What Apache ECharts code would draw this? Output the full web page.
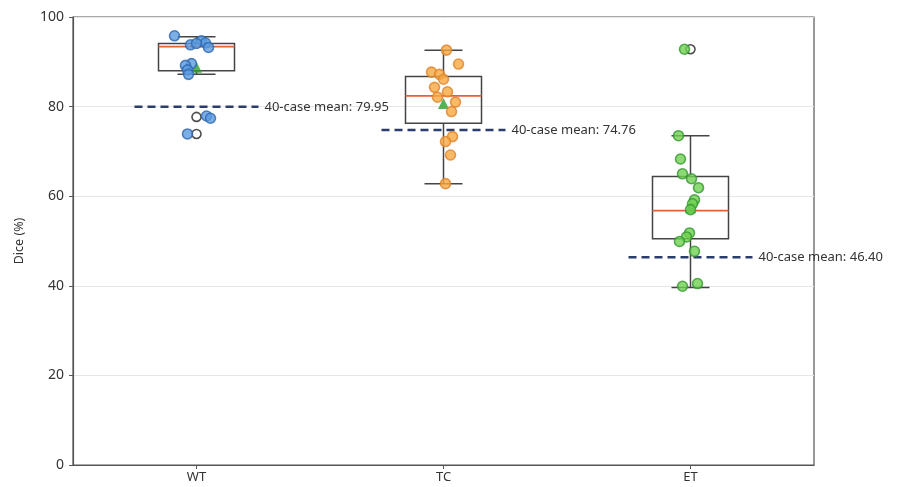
<!DOCTYPE html>
<html><head><meta charset="utf-8">
<script src="https://cdn.jsdelivr.net/npm/echarts@6/dist/echarts.min.js"></script>
<style>html,body{margin:0;padding:0;background:#fff}#c{width:901px;height:487px}</style>
</head><body><div id="c"></div>
<script>
// ---- data ----
const categories = ['WT', 'TC', 'ET'];
const wtValues = [95.8, 94.7, 94.2, 93.8, 94.1, 93.2, 89.6, 89.2, 88.2, 87.2, 77.9, 77.4, 73.9];
const tcValues = [92.6, 89.5, 87.7, 87.2, 86.1, 84.3, 83.3, 82.1, 81.0, 78.9, 73.3, 72.2, 69.2, 62.8];
const etValues = [92.8, 73.5, 68.3, 65.0, 63.9, 61.9, 59.2, 58.3, 57.0, 51.8, 50.9, 49.9, 47.7, 40.5, 39.9];
const boxLow = [87.2, 62.8, 39.6];
const boxQ1 = [88.0, 76.3, 50.5];
const boxMedian = [93.4, 82.4, 56.8];
const boxQ3 = [94.1, 86.7, 64.4];
const boxHigh = [95.6, 92.6, 73.5];
const meanValues = [88.8, 80.7, 57.4];
const caseMeans = [79.95, 74.76, 46.40];
const caseMeanLabels = ['40-case mean: 79.95', '40-case mean: 74.76', '40-case mean: 46.40'];
const outlierCats = [0, 0, 2];
const outlierValues = [77.7, 73.9, 92.8];
const yMin = 0, yMax = 100, yInterval = 20;

// ---- visual jitter of the strip points (pixels) ----
const wtJitter = [-22, 5, 9, -6, 0, 12, -5, -11, -9, -8, 10, 14, -9];
const tcJitter = [3, 15, -12, -4, 0, -9, 4, -6, 12, 8, 9, 2, 7, 2];
const etJitter = [-6, -12, -10, -8, 1, 8, 4, 2, 0, -1, -4, -11, 4, 7, -8];

const FONT = 'Noto Sans';
const chart = echarts.init(document.getElementById('c'), null, {renderer: 'canvas'});

function stripData(idx, vals, jit) {
  return vals.map((v, i) => ({value: [idx, v], symbolOffset: [jit[i], 0]}));
}

const boxData = categories.map((c, i) => [i, boxLow[i], boxQ1[i], boxMedian[i], boxQ3[i], boxHigh[i]]);
const meanLineData = categories.map((c, i) => [i, caseMeans[i]]);

const option = {
  animation: false,
  backgroundColor: '#fff',
  grid: {left: 73, right: 87, top: 17, bottom: 22, show: true, borderColor: '#555', borderWidth: 1.2, containLabel: false},
  xAxis: {
    type: 'category', data: categories, boundaryGap: true,
    axisLine: {show: true, lineStyle: {color: '#555', width: 1.2}},
    axisTick: {show: true, alignWithLabel: true, length: 4, lineStyle: {color: '#555'}},
    axisLabel: {color: '#333', fontSize: 13, fontFamily: FONT, margin: 6},
    splitLine: {show: false}
  },
  yAxis: {
    type: 'value', min: yMin, max: yMax, interval: yInterval,
    name: 'Dice (%)', nameLocation: 'middle', nameGap: 47, nameRotate: 90,
    nameTextStyle: {color: '#333', fontSize: 12.5, fontFamily: FONT},
    axisLine: {show: true, lineStyle: {color: '#555', width: 1.2}},
    axisTick: {show: true, length: 4, lineStyle: {color: '#555'}},
    axisLabel: {color: '#333', fontSize: 14, fontFamily: FONT, margin: 9},
    splitLine: {show: true, lineStyle: {color: '#e6e6e6', width: 1}}
  },
  series: [
    {
      type: 'custom', z: 2, data: meanLineData,
      renderItem: function (params, api) {
        const p = api.coord([api.value(0), api.value(1)]);
        const i = params.dataIndex;
        return {type: 'group', children: [
          {type: 'line', shape: {x1: p[0] - 62, y1: p[1], x2: p[0] + 62, y2: p[1]},
           style: {stroke: '#2b3d6b', lineWidth: 2.5, lineDash: [8, 5]}},
          {type: 'text', x: p[0] + 68, y: p[1],
           style: {text: caseMeanLabels[i], fill: '#333', font: '13px "' + FONT + '"', textVerticalAlign: 'middle', textAlign: 'left'}}
        ]};
      }
    },
    {
      type: 'custom', z: 3, data: boxData,
      renderItem: function (params, api) {
        const x = api.value(0);
        const lo = api.coord([x, api.value(1)]);
        const q1 = api.coord([x, api.value(2)]);
        const md = api.coord([x, api.value(3)]);
        const q3 = api.coord([x, api.value(4)]);
        const hi = api.coord([x, api.value(5)]);
        const cx = lo[0], hw = 38, cw = 19;
        const ls = {stroke: '#444', lineWidth: 1.5};
        return {type: 'group', children: [
          {type: 'line', shape: {x1: cx, y1: q3[1], x2: cx, y2: hi[1]}, style: ls},
          {type: 'line', shape: {x1: cx, y1: q1[1], x2: cx, y2: lo[1]}, style: ls},
          {type: 'line', shape: {x1: cx - cw, y1: hi[1], x2: cx + cw, y2: hi[1]}, style: ls},
          {type: 'line', shape: {x1: cx - cw, y1: lo[1], x2: cx + cw, y2: lo[1]}, style: ls},
          {type: 'rect', shape: {x: cx - hw, y: q3[1], width: 2 * hw, height: q1[1] - q3[1]},
           style: {fill: 'rgba(255,255,255,0)', stroke: '#444', lineWidth: 1.5}},
          {type: 'line', shape: {x1: cx - hw, y1: md[1], x2: cx + hw, y2: md[1]}, style: {stroke: '#e5603a', lineWidth: 1.8}}
        ]};
      }
    },
    {
      type: 'scatter', z: 4, symbol: 'circle', symbolSize: 9,
      data: outlierCats.map((c, i) => [c, outlierValues[i]]),
      itemStyle: {color: '#fff', borderColor: '#222', borderWidth: 1.6}
    },
    {
      type: 'scatter', z: 5, symbol: 'triangle', symbolSize: 11,
      data: meanValues.map((v, i) => [i, v]),
      itemStyle: {color: '#2ca02c'}
    },
    {
      type: 'scatter', z: 6, symbol: 'circle', symbolSize: 10,
      data: stripData(0, wtValues, wtJitter),
      itemStyle: {color: '#5a9be0', borderColor: '#2f66ad', borderWidth: 1.6}
    },
    {
      type: 'scatter', z: 6, symbol: 'circle', symbolSize: 10,
      data: stripData(1, tcValues, tcJitter),
      itemStyle: {color: '#f7a941', borderColor: '#e0832a', borderWidth: 1.6}
    },
    {
      type: 'scatter', z: 6, symbol: 'circle', symbolSize: 10,
      data: stripData(2, etValues, etJitter),
      itemStyle: {color: '#6fd150', borderColor: '#33962e', borderWidth: 1.6}
    }
  ]
};
chart.setOption(option);
</script>
</body></html>
